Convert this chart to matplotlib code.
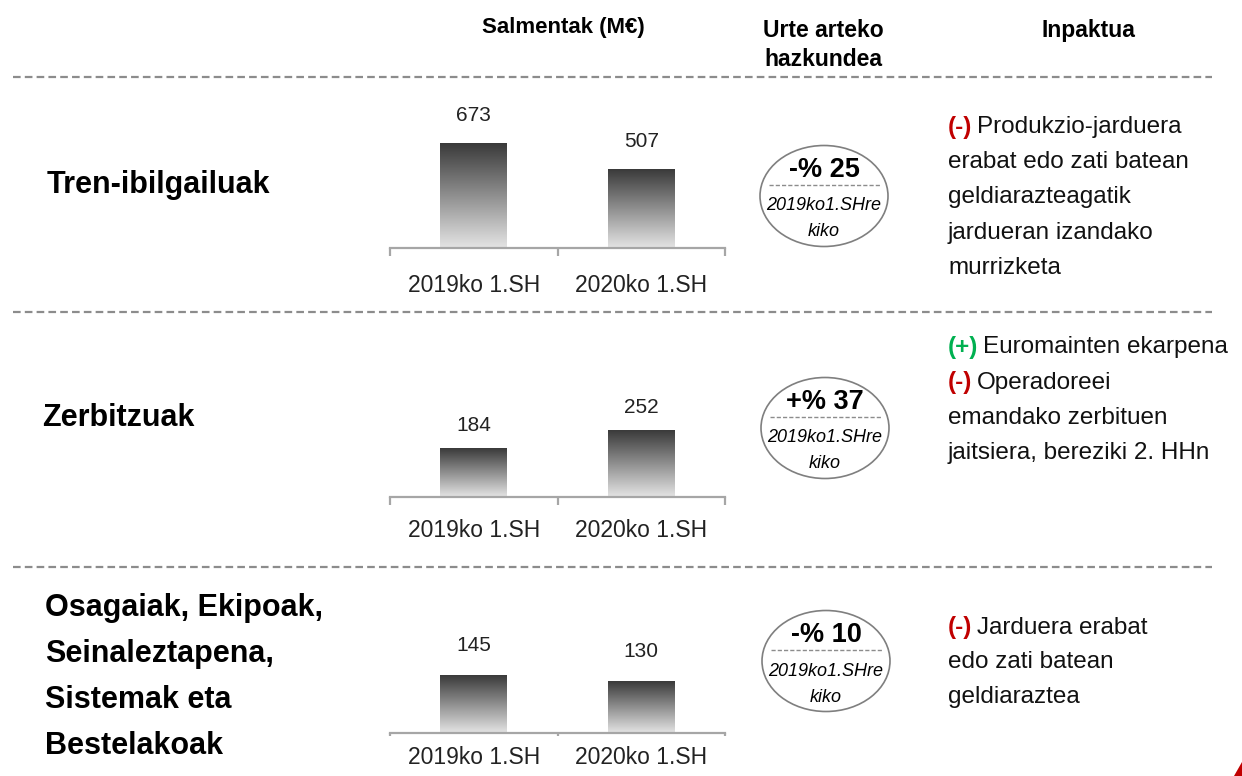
import numpy as np
import matplotlib
matplotlib.use("Agg")
import matplotlib.pyplot as plt
from matplotlib.patches import Ellipse, Polygon
from matplotlib.colors import LinearSegmentedColormap

# ---------------- data ----------------
periods = ["2019ko 1.SH", "2020ko 1.SH"]
segments = ["Tren-ibilgailuak", "Zerbitzuak",
            "Osagaiak, Ekipoak,\nSeinaleztapena,\nSistemak eta\nBestelakoak"]
sales_tren = [673, 507]
sales_zerbitzuak = [184, 252]
sales_osagaiak = [145, 130]
growth_labels = ["-% 25", "+% 37", "-% 10"]
growth_note = ["2019ko1.SHre", "kiko"]
headers = ["Salmentak (M€)", "Urte arteko\nhazkundea", "Inpaktua"]
impact_tren = [("(-)", "Produkzio-jarduera"), (None, "erabat edo zati batean"),
               (None, "geldiarazteagatik"), (None, "jardueran izandako"),
               (None, "murrizketa")]
impact_zerbitzuak = [("(+)", "Euromainten ekarpena"), ("(-)", "Operadoreei"),
                     (None, "emandako zerbituen"), (None, "jaitsiera, bereziki 2. HHn")]
impact_osagaiak = [("(-)", "Jarduera erabat"), (None, "edo zati batean"),
                   (None, "geldiaraztea")]

# ---------------- style ----------------
W, H = 1242, 776
NARROW = ['Liberation Sans', 'DejaVu Sans']
PLAIN = ['Liberation Sans', 'DejaVu Sans']
RED = "#C00000"
GREEN = "#00B050"
plt.rcParams['lines.scale_dashes'] = False

fig = plt.figure(figsize=(W / 100, H / 100), dpi=100)
ax0 = fig.add_axes([0, 0, 1, 1])
ax0.set_xlim(0, W)
ax0.set_ylim(H, 0)
ax0.axis("off")

# headers
ax0.text(563, 28, headers[0], ha="center", va="center", fontsize=16,
         fontweight="bold", family=NARROW)
ax0.text(823, 45, headers[1], ha="center", va="center", fontsize=16.5,
         fontweight="bold", family=NARROW, linespacing=1.35)
ax0.text(1088, 30, headers[2], ha="center", va="center", fontsize=16.5,
         fontweight="bold", family=NARROW)

# dashed separators
for ys in [77, 312, 567]:
    ax0.plot([13, 1212], [ys, ys], color="#8c8c8c", lw=1.6, dashes=(5.5, 3))

# row titles
title_pos = [(47, 185), (42, 418), (45, 677)]
for (tx, ty), name in zip(title_pos, segments):
    ax0.text(tx, ty, name, ha="left", va="center", fontsize=22,
             fontweight="bold", family=NARROW, linespacing=1.7)

# ---------------- bar panels ----------------
rows = [sales_tren, sales_zerbitzuak, sales_osagaiak]
baselines = [248, 497, 733]
ymaxes = [950, 557, 370]
label_pads = [19, 16, 9]
value_offsets = [20, 16, 21]
tick_lens = [6, 6, 2]
panel_h = 148
grad = np.linspace(0, 1, 256).reshape(-1, 1)
cmap = LinearSegmentedColormap.from_list("g", ["#e4e4e4", "#3a3a3a"])

for vals, base, ymax, lp, vo, tl in zip(rows, baselines, ymaxes, label_pads,
                                        value_offsets, tick_lens):
    left = 390 / W
    width = 335 / W
    bottom = 1 - base / H
    ax = fig.add_axes([left, bottom, width, panel_h / H])
    ax.patch.set_alpha(0)
    x = np.arange(len(periods))
    bars = ax.bar(x, vals, width=0.40, color="none", edgecolor="none")
    for b in bars:
        x0, y0 = b.get_x(), b.get_y()
        im = ax.imshow(grad, extent=[x0, x0 + b.get_width(), y0, y0 + b.get_height()],
                       origin="lower", cmap=cmap, aspect="auto", zorder=2)
        im.set_clip_path(b)
    for xi, v in zip(x, vals):
        ax.annotate(str(v), (xi, v), xytext=(0, vo), textcoords="offset points",
                    ha="center", va="center", fontsize=15, family=PLAIN,
                    color="#222222")
    ax.set_xlim(-0.5, 1.5)
    ax.set_ylim(0, ymax)
    for s in ["top", "right", "left"]:
        ax.spines[s].set_visible(False)
    ax.spines["bottom"].set_color("#a6a6a6")
    ax.spines["bottom"].set_linewidth(1.6)
    ax.set_yticks([])
    ax.set_xticks(x)
    ax.set_xticklabels(periods, fontsize=16.5, family=PLAIN, color="#222222")
    ax.tick_params(axis="x", length=0, pad=lp)
    ax.set_xticks([-0.5, 0.5, 1.5], minor=True)
    ax.tick_params(axis="x", which="minor", length=tl, width=1.6, color="#a6a6a6",
                   direction="out")

# ---------------- growth ellipses ----------------
ell_centers = [(824, 196), (825, 428), (826, 661)]
for (cx, cy), lab in zip(ell_centers, growth_labels):
    ax0.add_patch(Ellipse((cx, cy), 128, 101, facecolor="white",
                          edgecolor="#7f7f7f", lw=1.2, zorder=3))
    ax0.text(cx, cy - 26, lab, ha="center", va="center", fontsize=19.5,
             fontweight="bold", family=NARROW, zorder=4)
    ax0.plot([cx - 55, cx + 57], [cy - 11, cy - 11], color="#8c8c8c", lw=1.0,
             dashes=(3, 1.5), zorder=4)
    ax0.text(cx, cy + 10, growth_note[0], ha="center", va="center", fontsize=13,
             style="italic", family=NARROW, zorder=4)
    ax0.text(cx, cy + 36, growth_note[1], ha="center", va="center", fontsize=13,
             style="italic", family=NARROW, zorder=4)

# ---------------- impact text ----------------
fig.canvas.draw()
renderer = fig.canvas.get_renderer()
impact_rows = [impact_tren, impact_zerbitzuak, impact_osagaiak]
impact_y0 = [125, 345, 625]
step = 35
tx0 = 948
for lines, y0 in zip(impact_rows, impact_y0):
    for i, (prefix, body) in enumerate(lines):
        y = y0 + i * step
        xx = tx0
        if prefix is not None:
            col = GREEN if prefix == "(+)" else RED
            t = ax0.text(xx, y, prefix, ha="left", va="center_baseline", fontsize=17.5,
                         fontweight="bold", family=NARROW, color=col)
            bb = t.get_window_extent(renderer)
            xx = ax0.transData.inverted().transform((bb.x1, bb.y0))[0] + 5
        ax0.text(xx, y, body, ha="left", va="center_baseline", fontsize=17.5,
                 family=NARROW, color="#111111")

# small corner mark
ax0.add_patch(Polygon([[1234, 776], [1242, 776], [1242, 762]], closed=True,
                      color=RED, lw=0))

fig.savefig("out.png", dpi=100)
